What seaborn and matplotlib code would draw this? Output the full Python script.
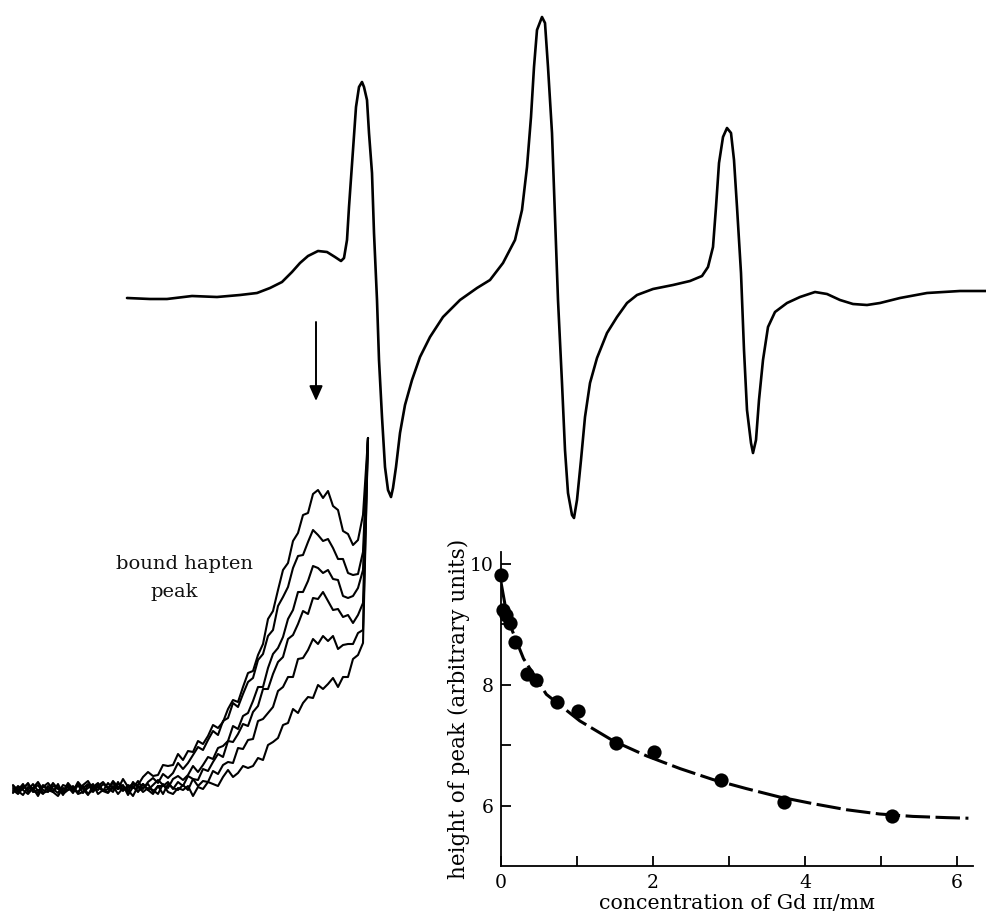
import matplotlib
matplotlib.use("Agg")
import matplotlib.pyplot as plt
import seaborn as sns

# top spectrum (page x, page y)
SPEC_X = [127, 150, 167, 192, 217, 240, 257, 270, 282, 292, 300, 308, 318, 327, 335, 341, 344, 347,
          349, 353, 356, 359, 362, 364, 367, 369, 372, 374, 377, 379, 382, 385, 388, 391, 393, 396,
          400, 405, 412, 420, 430, 443, 460, 477, 490, 503, 515, 522, 527, 531, 534, 537, 542,
          545, 548, 552, 555, 558, 562, 565, 568, 572, 574, 577, 581, 585, 590, 597, 607, 617,
          627, 637, 653, 673, 690, 702, 708, 713, 716, 719, 723, 727, 731, 734, 737, 741, 744,
          747, 751, 753, 756, 759, 763, 768, 775, 787, 800, 815, 827, 840, 853, 867, 880, 900,
          927, 960, 987]
SPEC_Y = [298, 299, 299, 296, 297, 295, 293, 288, 282, 272, 263, 256, 251, 252, 257, 261, 258, 240,
          207, 150, 107, 87, 82, 87, 100, 133, 173, 233, 300, 360, 417, 467, 490, 497, 488, 467,
          433, 405, 380, 357, 337, 317, 300, 288, 280, 263, 240, 210, 167, 117, 67, 30, 17,
          23, 67, 133, 217, 300, 383, 450, 493, 515, 518, 500, 460, 417, 383, 358, 333, 317,
          303, 295, 289, 285, 281, 276, 267, 247, 207, 163, 137, 128, 133, 160, 207, 273, 350,
          410, 443, 453, 440, 400, 360, 327, 312, 303, 297, 292, 294, 300, 304, 305, 303, 298,
          293, 291, 291]

# bound hapten peak traces (page x grid, one y list per trace)
TRACE_X = [13, 18, 23, 28, 33, 38, 43, 48, 53, 58, 63, 68, 73, 78, 83, 88, 93, 98, 103, 108,
           113, 118, 123, 128, 133, 138, 143, 148, 153, 158, 163, 168, 173, 178, 183, 188, 193, 198,
           203, 208, 213, 218, 223, 228, 233, 238, 243, 248, 253, 258, 263, 268, 273, 278, 283, 288,
           293, 298, 303, 308, 313, 318, 323, 328, 333, 338, 343, 348, 353, 358, 363]
TRACE_1 = [788, 792, 786, 790, 784, 791, 787, 783, 789, 793, 785, 787, 791, 782, 788, 784, 792, 786, 782, 788,
           783, 789, 779, 787, 784, 785, 777, 772, 776, 775, 765, 766, 765, 754, 760, 751, 752, 741, 744, 736,
           725, 728, 722, 709, 700, 702, 687, 673, 671, 655, 644, 619, 611, 590, 570, 563, 541, 533, 515, 513,
           494, 490, 498, 491, 506, 510, 531, 534, 545, 540, 515]
TRACE_2 = [786, 790, 784, 792, 788, 782, 790, 792, 786, 788, 792, 783, 789, 785, 793, 785, 787, 783, 791, 789,
           781, 787, 791, 785, 788, 781, 789, 782, 778, 783, 774, 778, 773, 763, 769, 763, 755, 747, 750, 740,
           731, 735, 721, 718, 703, 707, 694, 682, 678, 660, 654, 636, 630, 606, 597, 587, 568, 556, 555, 542,
           530, 535, 541, 539, 548, 559, 559, 573, 575, 574, 552]
TRACE_3 = [793, 787, 789, 783, 791, 793, 785, 789, 791, 787, 795, 785, 789, 793, 785, 781, 789, 787, 791, 783,
           789, 784, 786, 792, 782, 788, 784, 790, 785, 780, 785, 788, 779, 776, 780, 775, 766, 772, 765, 757,
           759, 748, 746, 741, 726, 729, 716, 713, 701, 687, 687, 668, 654, 648, 637, 619, 610, 592, 592, 581,
           566, 568, 573, 570, 579, 580, 596, 598, 596, 588, 570]
TRACE_4 = [785, 791, 795, 787, 789, 785, 793, 791, 783, 789, 791, 787, 793, 785, 789, 795, 786, 790, 784, 788,
           792, 782, 790, 788, 786, 792, 784, 790, 794, 786, 786, 782, 789, 782, 786, 776, 779, 780, 769, 771,
           762, 754, 757, 741, 742, 734, 724, 726, 712, 706, 689, 689, 674, 662, 657, 639, 635, 624, 611, 614,
           598, 599, 592, 601, 610, 609, 617, 615, 623, 615, 603]
TRACE_5 = [792, 786, 790, 794, 788, 796, 786, 790, 792, 784, 794, 790, 788, 792, 786, 794, 790, 784, 791, 793,
           787, 789, 785, 795, 787, 791, 788, 784, 792, 786, 794, 784, 788, 790, 785, 790, 779, 786, 781, 782,
           771, 774, 765, 762, 763, 748, 749, 740, 739, 721, 719, 713, 707, 691, 687, 677, 677, 659, 658, 650,
           639, 644, 636, 641, 636, 649, 645, 644, 644, 633, 630]
TRACE_6 = [790, 794, 788, 784, 792, 790, 794, 786, 792, 796, 788, 790, 786, 794, 792, 788, 784, 794, 790, 792,
           786, 794, 788, 790, 796, 786, 792, 788, 790, 794, 784, 792, 794, 788, 790, 786, 796, 787, 789, 782,
           784, 786, 777, 770, 777, 773, 766, 768, 766, 758, 760, 745, 742, 738, 725, 723, 709, 713, 703, 697,
           698, 685, 689, 684, 678, 687, 677, 677, 659, 655, 643]
SPIKE_X = 368
SPIKE_Y = 438

# inset: peak height vs Gd(III) concentration
CONC = [0.0, 0.03, 0.07, 0.12, 0.19, 0.34, 0.46, 0.74, 1.01, 1.52, 2.01, 2.90, 3.73, 5.15]
HEIGHT = [9.81, 9.23, 9.15, 9.02, 8.71, 8.17, 8.08, 7.72, 7.57, 7.03, 6.89, 6.43, 6.06, 5.83]
FIT_X = [0.0, 0.06, 0.15, 0.3, 0.6, 1.04, 1.48, 1.92, 2.36, 2.79, 3.23, 3.67, 4.11, 4.55, 4.98, 5.42, 5.86, 6.15]
FIT_Y = [9.72, 9.30, 8.90, 8.43, 7.84, 7.40, 7.07, 6.82, 6.61, 6.43, 6.28, 6.14, 6.03, 5.93, 5.86, 5.82, 5.80, 5.79]

sns.set_theme(style="white")
plt.rcParams['font.family'] = ['DejaVu Serif', 'DejaVu Sans']

fig = plt.figure(figsize=(9.87, 9.19), dpi=100)

# whole-page axes for the spectra
ax = fig.add_axes([0, 0, 1, 1])
ax.set_xlim(0, 987)
ax.set_ylim(919, 0)
ax.axis('off')

sns.lineplot(x=SPEC_X, y=SPEC_Y, ax=ax, color='black', linewidth=1.9, estimator=None, sort=False)

for trace in [TRACE_1, TRACE_2, TRACE_3, TRACE_4, TRACE_5, TRACE_6]:
    sns.lineplot(x=TRACE_X + [SPIKE_X], y=trace + [SPIKE_Y], ax=ax, color='black',
                 linewidth=1.5, estimator=None, sort=False)

ax.annotate('', xy=(316, 401), xytext=(316, 322),
            arrowprops=dict(arrowstyle='-|>,head_length=0.45,head_width=0.2', color='black',
                            lw=1.4, mutation_scale=20, shrinkA=0, shrinkB=0))

ax.text(184, 564, 'bound hapten', ha='center', va='center', fontsize=14, color='#111111')
ax.text(174, 592, 'peak', ha='center', va='center', fontsize=14, color='#111111')

# inset plot
ax2 = fig.add_axes([0.5073, 0.0577, 0.4785, 0.342])
ax2.patch.set_alpha(0)
sns.lineplot(x=FIT_X, y=FIT_Y, ax=ax2, color='black', linewidth=2.2, estimator=None, sort=False)
ax2.lines[-1].set_dashes([8, 1.8])
sns.scatterplot(x=CONC, y=HEIGHT, ax=ax2, color='black', s=105, linewidth=0, clip_on=False, zorder=3)

ax2.set_xlim(0, 6.21)
ax2.set_ylim(5, 10.2)
sns.despine(ax=ax2)
for side in ['left', 'bottom']:
    ax2.spines[side].set_color('black')
    ax2.spines[side].set_linewidth(1.3)

ax2.set_xticks(range(7))
ax2.set_xticklabels(['0', '', '2', '', '4', '', '6'])
ax2.set_yticks([6, 7, 8, 9, 10])
ax2.set_yticklabels(['6', '', '8', '', '10'])
ax2.tick_params(bottom=True, left=True, direction='in', length=7, width=1.3,
                colors='black', labelsize=13.5, pad=6)
ax2.tick_params(axis='y', pad=5)
ax2.set_xlabel('concentration of Gd ɪɪɪ/mᴍ', fontsize=14.8, labelpad=1, color='black')
ax2.set_ylabel('height of peak (arbitrary units)', fontsize=15.5, color='black')
ax2.yaxis.set_label_coords(-0.066, 0.5)

fig.savefig('out.png', dpi=100, facecolor='white')
